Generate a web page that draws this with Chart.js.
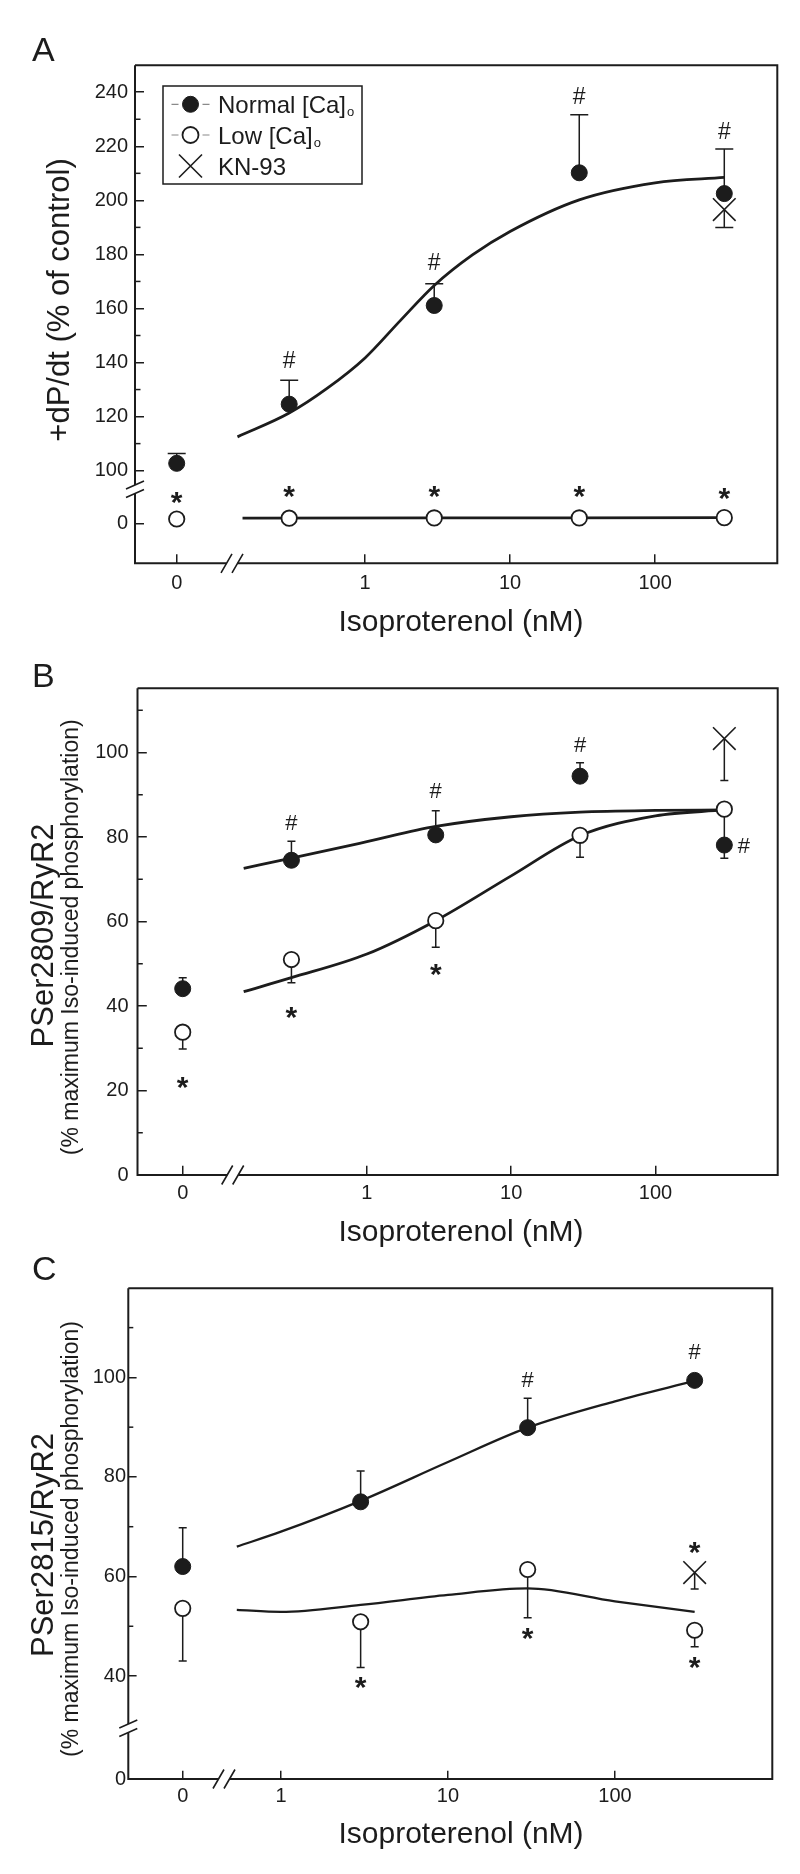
<!DOCTYPE html>
<html>
<head>
<title>Isoproterenol dose-response, panels A-C</title>
<style>
  body { margin: 0; background: #fff; }
  #figure { position: relative; width: 800px; height: 1874px; overflow: hidden; }
  #figure canvas { position: absolute; left: 0; }
</style>
<script src="https://cdn.jsdelivr.net/npm/chart.js"></script>
</head>
<body>
<div id="figure">
  <canvas id="panelA" width="800" height="650" style="top:0px"></canvas>
  <canvas id="panelB" width="800" height="605" style="top:650px"></canvas>
  <canvas id="panelC" width="800" height="619" style="top:1255px"></canvas>
</div>
<script>
const FONT = '"Liberation Sans", Arial, Helvetica, sans-serif';
const INK = '#1c1c1c';

// ---------- panel A: +dP/dt ----------
const isoA = [0.3, 3, 30, 300];
const normalA = [124.6, 161.1, 210.2, 202.5];
const normalErrA = [133.4, 169.1, 231.7, 219.0];
const normalCtrlA = [102.7];
const normalCtrlErrA = [106.3];
const lowA = [1.9, 2.0, 2.0, 2.1];
const lowCtrlA = [1.6];
const knA = [196.6];
const knErrA = [190.0];
const fitNormalXA = [0.132, 0.3, 0.55, 1, 1.75, 3, 5.5, 10, 30, 100, 300];
const fitNormalYA = [112.5, 121.3, 130.5, 141.7, 155.5, 168.5, 179.8, 188.5, 200.2, 206.5, 208.5];
const fitLowXA = [0.143, 3, 300];
const fitLowYA = [1.9, 2.0, 2.1];
const hashA = [[0.3, 141.3], [3, 177.5], [30, 238.9], [300, 225.8]];
const starA = [[0.3, 11.6], [3, 11.6], [30, 11.6], [300, 11.0]];
const starCtrlA = [9.3];
const yTicksA = [100, 120, 140, 160, 180, 200, 220, 240];
const yMinorA = [110, 130, 150, 170, 190, 210, 230];
const yTicksLowA = [0];

// ---------- panel B: PSer2809 ----------
const isoB = [0.3, 3, 30, 300];
const normalB = [74.5, 80.5, 94.4, 78.1];
const normalErrB = [79.0, 86.2, 97.6, 75.0];
const normalCtrlB = [44.1];
const normalCtrlErrB = [46.7];
const lowB = [51.0, 60.2, 80.4, 86.6];
const lowErrB = [45.5, 53.9, 75.2, 78.5];
const lowCtrlB = [33.8];
const lowCtrlErrB = [29.8];
const knB = [103.3];
const knErrB = [93.4];
const fitNormalXB = [0.14, 0.3, 1, 3, 10, 30, 100, 300];
const fitNormalYB = [72.6, 75.0, 78.9, 82.5, 84.8, 85.9, 86.3, 86.4];
const fitLowXB = [0.14, 0.3, 1, 3, 10, 30, 100, 300];
const fitLowYB = [43.4, 46.7, 52.3, 60.2, 70.8, 80.3, 85.0, 86.4];
const hashB = [[0.3, 83.5], [3, 90.9], [30, 101.8], [410, 77.9]];
const starB = [[0.3, 38.3], [3, 48.6]];
const starCtrlB = [21.7];
const yTicksB = [0, 20, 40, 60, 80, 100];
const yMinorB = [10, 30, 50, 70, 90, 110];

// ---------- panel C: PSer2815 ----------
const isoC = [3, 30, 300];
const normalC = [75.0, 89.9, 99.4];
const normalErrC = [81.2, 95.8, null];
const normalCtrlC = [62.0];
const normalCtrlErrC = [69.8];
const lowC = [50.9, 61.4, 49.2];
const lowErrC = [41.7, 51.7, 45.9];
const lowCtrlC = [53.6];
const lowCtrlErrC = [43.0];
const knC = [60.8];
const knErrC = [57.5];
const fitNormalXC = [0.544, 1, 3, 10, 30, 100, 300];
const fitNormalYC = [66.0, 69.0, 75.2, 83.0, 89.9, 95.2, 99.3];
const fitLowXC = [0.544, 1, 3, 10, 30, 100, 300];
const fitLowYC = [53.3, 52.9, 54.3, 56.3, 57.6, 55.0, 52.9];
const hashC = [[30, 99.6], [300, 105.3]];
const starC = [[3, 38.7], [30, 48.4], [300, 65.7], [300, 42.7]];
const yTicksC = [40, 60, 80, 100];
const yMinorC = [50, 70, 90, 110];
const yTicksLowC = [0];

const xTicksIso = [1, 10, 100];
const xTitle = 'Isoproterenol (nM)';

// ---------- helpers ----------
function pts(xs, ys) { return xs.map((x, i) => ({x: x, y: ys[i]})); }

function textAt(ctx, str, x, yc, font) {
  ctx.font = font;
  const m = ctx.measureText(str);
  ctx.textAlign = 'center';
  ctx.textBaseline = 'alphabetic';
  ctx.fillText(str, x, yc + (m.actualBoundingBoxAscent - m.actualBoundingBoxDescent) / 2);
}

function marker(ctx, kind, x, y) {
  ctx.save();
  ctx.strokeStyle = INK;
  if (kind === 'cross') {
    const d = 11.5;
    ctx.lineWidth = 1.6;
    ctx.beginPath();
    ctx.moveTo(x - d, y - d); ctx.lineTo(x + d, y + d);
    ctx.moveTo(x + d, y - d); ctx.lineTo(x - d, y + d);
    ctx.stroke();
  } else {
    ctx.beginPath();
    ctx.arc(x, y, 8, 0, Math.PI * 2);
    ctx.fillStyle = kind === 'filled' ? INK : '#fff';
    ctx.lineWidth = kind === 'filled' ? 1 : 1.8;
    ctx.fill(); ctx.stroke();
  }
  ctx.restore();
}

function drawLegend(ctx, G, items) {
  ctx.save();
  ctx.strokeStyle = INK; ctx.lineWidth = 1.5;
  ctx.strokeRect(G.x, G.y, G.w, G.h);
  items.forEach((it, i) => {
    const y = G.rows[i];
    if (it.kind !== 'cross') {
      ctx.strokeStyle = '#8a8a8a'; ctx.lineWidth = 1.2;
      ctx.beginPath();
      ctx.moveTo(G.markX - 19, y); ctx.lineTo(G.markX - 12, y);
      ctx.moveTo(G.markX + 12, y); ctx.lineTo(G.markX + 19, y);
      ctx.stroke();
    }
    marker(ctx, it.kind, G.markX, y);
    ctx.fillStyle = INK;
    ctx.font = G.size + 'px ' + FONT;
    ctx.textAlign = 'left'; ctx.textBaseline = 'alphabetic';
    const base = y + G.size * 0.36;
    ctx.fillText(it.label, G.textX, base);
    if (it.sub) {
      const w = ctx.measureText(it.label).width;
      ctx.font = '13px ' + FONT;
      ctx.fillText(it.sub, G.textX + w + 1, base + 3);
    }
  });
  ctx.restore();
}

function decor(P) {
  const L = P.layout;
  return {
    id: 'decor' + P.letter,
    beforeDatasetsDraw(chart) {
      const ctx = chart.ctx;
      ctx.save();
      ctx.strokeStyle = INK; ctx.lineWidth = 1.5;
      P.errors.forEach(e => {
        const sx = chart.scales[e.xAxis], sy = chart.scales[e.yAxis];
        e.x.forEach((xv, i) => {
          if (e.end[i] == null) return;
          const px = sx.getPixelForValue(xv);
          const p0 = sy.getPixelForValue(e.y[i]);
          const p1 = sy.getPixelForValue(e.end[i]);
          ctx.beginPath();
          ctx.moveTo(px, p0); ctx.lineTo(px, p1);
          ctx.moveTo(px - L.cap, p1); ctx.lineTo(px + L.cap, p1);
          ctx.stroke();
        });
      });
      ctx.restore();
    },
    afterDraw(chart) {
      const ctx = chart.ctx, a = chart.chartArea;
      ctx.save();
      ctx.strokeStyle = INK; ctx.fillStyle = INK;

      // minor ticks on the y axis
      ctx.lineWidth = 1.5;
      P.minor.forEach(m => {
        const s = chart.scales[m.axis];
        m.values.forEach(v => {
          const py = s.getPixelForValue(v);
          ctx.beginPath(); ctx.moveTo(a.left, py); ctx.lineTo(a.left + L.minor, py); ctx.stroke();
        });
      });

      // frame with axis breaks
      const xb = chart.scales.x0.right;
      const yb = chart.scales.yLow ? chart.scales.y.bottom : null;
      ctx.lineWidth = 2;
      ctx.beginPath();
      ctx.moveTo(a.left, a.top); ctx.lineTo(a.right, a.top);
      ctx.lineTo(a.right, a.bottom); ctx.lineTo(xb + 5.5, a.bottom);
      ctx.moveTo(xb - 5.5, a.bottom); ctx.lineTo(a.left, a.bottom);
      if (yb === null) {
        ctx.lineTo(a.left, a.top);
      } else {
        ctx.lineTo(a.left, yb + 4.2);
        ctx.moveTo(a.left, yb - 4.2); ctx.lineTo(a.left, a.top);
      }
      ctx.stroke();
      ctx.lineWidth = 1.6;
      ctx.beginPath();
      [-5.5, 5.5].forEach(d => {
        ctx.moveTo(xb + d - 5.5, a.bottom + 9.5); ctx.lineTo(xb + d + 5.5, a.bottom - 9.5);
      });
      if (yb !== null) {
        [-4.2, 4.2].forEach(d => {
          ctx.moveTo(a.left - 9, yb + d + 4); ctx.lineTo(a.left + 9, yb + d - 4);
        });
      }
      ctx.stroke();

      // significance marks
      P.marks.forEach(m => {
        const sx = chart.scales[m.xAxis], sy = chart.scales[m.yAxis];
        m.pts.forEach(p => textAt(ctx, m.text, sx.getPixelForValue(p[0]), sy.getPixelForValue(p[1]), m.font));
      });

      // axis titles
      ctx.font = '30px ' + FONT;
      ctx.textAlign = 'center'; ctx.textBaseline = 'alphabetic';
      ctx.fillText(xTitle, L.xTitleX, L.xTitleBase);
      L.yTitles.forEach((t, i) => {
        ctx.save();
        ctx.translate(t.x, t.y);
        ctx.rotate(-Math.PI / 2);
        ctx.font = t.size + 'px ' + FONT;
        ctx.textAlign = 'center';
        ctx.fillText(P.yTitles[i], 0, 0);
        ctx.restore();
      });

      // panel letter
      ctx.font = '34px ' + FONT;
      ctx.textAlign = 'left';
      ctx.fillText(P.letter, 32, L.letterY);

      if (P.legend) drawLegend(ctx, L.legend, P.legend);
      ctx.restore();
    }
  };
}

function makeChart(P) {
  const L = P.layout;
  const tickFont = {family: FONT, size: 20};
  const yAxis = (range, ticks, stackWeight, weight) => ({
    type: 'linear', position: 'left', min: range[0], max: range[1], bounds: 'data',
    stack: 'v', stackWeight: stackWeight, weight: weight,
    border: {display: false},
    grid: {drawOnChartArea: false, tickLength: -L.tick, color: INK, lineWidth: 1.5},
    ticks: {font: tickFont, color: INK, padding: L.yPad, autoSkip: false, callback: v => String(v)},
    afterBuildTicks: s => { s.ticks = ticks.map(v => ({value: v})); },
    afterFit: s => { s.width = L.left; }
  });
  const xAxis = (type, range, ticks, stackWeight, weight) => ({
    type: type, position: 'bottom', min: range[0], max: range[1], bounds: 'data',
    stack: 'h', stackWeight: stackWeight, weight: weight,
    border: {display: false},
    grid: {drawOnChartArea: false, tickLength: -L.tick, color: INK, lineWidth: 1.5},
    ticks: {font: tickFont, color: INK, padding: L.xPad, autoSkip: false, maxRotation: 0, callback: v => String(v)},
    afterBuildTicks: s => { s.ticks = ticks.map(v => ({value: v})); },
    afterFit: s => { s.height = L.height - L.bottom; }
  });

  const scales = {
    x0: xAxis('linear', P.xCtrl, [0], L.xBreak - L.left, 1),
    x: xAxis('logarithmic', P.xIso, xTicksIso, L.right - L.xBreak, 2),
    y: yAxis(P.yMain, P.yTicks, P.yLow ? L.yBreak - L.top : 1, 2)
  };
  if (P.yLow) scales.yLow = yAxis(P.yLow, P.yLowTicks, L.bottom - L.yBreak, 1);

  const filled = {pointStyle: 'circle', pointRadius: 8, pointBackgroundColor: INK, pointBorderColor: INK, pointBorderWidth: 1};
  const open = {pointStyle: 'circle', pointRadius: 7.7, pointBackgroundColor: '#fff', pointBorderColor: INK, pointBorderWidth: 1.8};
  const cross = {pointStyle: 'crossRot', pointRadius: 16, pointBorderColor: INK, pointBorderWidth: 1.6};
  const curve = {showLine: true, pointRadius: 0, borderColor: INK, borderWidth: L.curveW, cubicInterpolationMode: 'monotone', order: 5, clip: false};

  const datasets = [];
  P.curves.forEach(c => datasets.push(Object.assign({data: c.data, xAxisID: 'x', yAxisID: c.yAxis}, curve)));
  P.points.forEach(p => {
    const style = p.kind === 'filled' ? filled : p.kind === 'open' ? open : cross;
    datasets.push(Object.assign({data: p.data, xAxisID: p.xAxis, yAxisID: p.yAxis, showLine: false, order: 1, clip: false}, style));
  });

  return new Chart(document.getElementById(P.id), {
    type: 'scatter',
    data: {datasets: datasets},
    options: {
      responsive: false,
      animation: false,
      devicePixelRatio: 1,
      events: [],
      layout: {padding: {left: 0, top: L.top, right: 800 - L.right, bottom: 0}},
      plugins: {legend: {display: false}, tooltip: {enabled: false}},
      scales: scales
    },
    plugins: [decor(P)]
  });
}

const STAR = 'bold 30px ' + FONT;

// ---------- panels ----------
makeChart({
  id: 'panelA', letter: 'A',
  layout: {height: 650, left: 135, right: 777.3, top: 65.2, bottom: 563.3, xBreak: 232, yBreak: 489.3,
           yPad: 16, xPad: 16.7, tick: 9, minor: 5.5, cap: 9, curveW: 2.8, letterY: 61,
           xTitleX: 461, xTitleBase: 631,
           yTitles: [{x: 69, y: 300, size: 31}],
           legend: {x: 163, y: 86, w: 199, h: 98, rows: [104.3, 135, 166], markX: 190.5, textX: 218, size: 24}},
  xCtrl: [-1, 1.326], xIso: [0.121, 696],
  yMain: [93.1, 250], yLow: [-14.8, 12.6],
  yTicks: yTicksA, yLowTicks: yTicksLowA,
  minor: [{axis: 'y', values: yMinorA}],
  yTitles: ['+dP/dt (% of control)'],
  curves: [{data: pts(fitNormalXA, fitNormalYA), yAxis: 'y'}, {data: pts(fitLowXA, fitLowYA), yAxis: 'yLow'}],
  points: [
    {kind: 'filled', data: pts(isoA, normalA), xAxis: 'x', yAxis: 'y'},
    {kind: 'filled', data: pts([0], normalCtrlA), xAxis: 'x0', yAxis: 'y'},
    {kind: 'open', data: pts(isoA, lowA), xAxis: 'x', yAxis: 'yLow'},
    {kind: 'open', data: pts([0], lowCtrlA), xAxis: 'x0', yAxis: 'yLow'},
    {kind: 'cross', data: pts([300], knA), xAxis: 'x', yAxis: 'y'}
  ],
  errors: [
    {xAxis: 'x', yAxis: 'y', x: isoA, y: normalA, end: normalErrA},
    {xAxis: 'x0', yAxis: 'y', x: [0], y: normalCtrlA, end: normalCtrlErrA},
    {xAxis: 'x', yAxis: 'y', x: [300], y: knA, end: knErrA}
  ],
  marks: [
    {text: '#', font: '23px ' + FONT, xAxis: 'x', yAxis: 'y', pts: hashA},
    {text: '*', font: STAR, xAxis: 'x', yAxis: 'yLow', pts: starA},
    {text: '*', font: STAR, xAxis: 'x0', yAxis: 'yLow', pts: starCtrlA.map(v => [0, v])}
  ],
  legend: [
    {kind: 'filled', label: 'Normal [Ca]', sub: 'o'},
    {kind: 'open', label: 'Low [Ca]', sub: 'o'},
    {kind: 'cross', label: 'KN-93'}
  ]
});

makeChart({
  id: 'panelB', letter: 'B',
  layout: {height: 605, left: 137.5, right: 777.7, top: 38.3, bottom: 525, xBreak: 232.7, yBreak: null,
           yPad: 18.2, xPad: 16.2, tick: 9.3, minor: 5.3, cap: 4, curveW: 2.8, letterY: 37,
           xTitleX: 461, xTitleBase: 591,
           yTitles: [{x: 52.7, y: 285.4, size: 31}, {x: 78, y: 287.3, size: 23}]},
  xCtrl: [-1, 1.106], xIso: [0.1175, 703],
  yMain: [0, 115.2], yLow: null,
  yTicks: yTicksB,
  minor: [{axis: 'y', values: yMinorB}],
  yTitles: ['PSer2809/RyR2', '(% maximum Iso-induced phosphorylation)'],
  curves: [{data: pts(fitNormalXB, fitNormalYB), yAxis: 'y'}, {data: pts(fitLowXB, fitLowYB), yAxis: 'y'}],
  points: [
    {kind: 'filled', data: pts(isoB, normalB), xAxis: 'x', yAxis: 'y'},
    {kind: 'filled', data: pts([0], normalCtrlB), xAxis: 'x0', yAxis: 'y'},
    {kind: 'open', data: pts(isoB, lowB), xAxis: 'x', yAxis: 'y'},
    {kind: 'open', data: pts([0], lowCtrlB), xAxis: 'x0', yAxis: 'y'},
    {kind: 'cross', data: pts([300], knB), xAxis: 'x', yAxis: 'y'}
  ],
  errors: [
    {xAxis: 'x', yAxis: 'y', x: isoB, y: lowB, end: lowErrB},
    {xAxis: 'x', yAxis: 'y', x: isoB, y: normalB, end: normalErrB},
    {xAxis: 'x0', yAxis: 'y', x: [0], y: normalCtrlB, end: normalCtrlErrB},
    {xAxis: 'x0', yAxis: 'y', x: [0], y: lowCtrlB, end: lowCtrlErrB},
    {xAxis: 'x', yAxis: 'y', x: [300], y: knB, end: knErrB}
  ],
  marks: [
    {text: '#', font: '22px ' + FONT, xAxis: 'x', yAxis: 'y', pts: hashB},
    {text: '*', font: STAR, xAxis: 'x', yAxis: 'y', pts: starB},
    {text: '*', font: STAR, xAxis: 'x0', yAxis: 'y', pts: starCtrlB.map(v => [0, v])}
  ]
});

makeChart({
  id: 'panelC', letter: 'C',
  layout: {height: 619, left: 128.3, right: 772.3, top: 33.3, bottom: 524, xBreak: 224, yBreak: 473.3,
           yPad: 10.6, xPad: 13.8, tick: 8.3, minor: 5, cap: 4, curveW: 2.3, letterY: 25,
           xTitleX: 461, xTitleBase: 588,
           yTitles: [{x: 52.7, y: 290, size: 31}, {x: 78, y: 284, size: 23}]},
  xCtrl: [-1, 0.759], xIso: [0.456, 875],
  yMain: [29.5, 117.9], yLow: [0, 10.2],
  yTicks: yTicksC, yLowTicks: yTicksLowC,
  minor: [{axis: 'y', values: yMinorC}],
  yTitles: ['PSer2815/RyR2', '(% maximum Iso-induced phosphorylation)'],
  curves: [{data: pts(fitNormalXC, fitNormalYC), yAxis: 'y'}, {data: pts(fitLowXC, fitLowYC), yAxis: 'y'}],
  points: [
    {kind: 'filled', data: pts(isoC, normalC), xAxis: 'x', yAxis: 'y'},
    {kind: 'filled', data: pts([0], normalCtrlC), xAxis: 'x0', yAxis: 'y'},
    {kind: 'open', data: pts(isoC, lowC), xAxis: 'x', yAxis: 'y'},
    {kind: 'open', data: pts([0], lowCtrlC), xAxis: 'x0', yAxis: 'y'},
    {kind: 'cross', data: pts([300], knC), xAxis: 'x', yAxis: 'y'}
  ],
  errors: [
    {xAxis: 'x', yAxis: 'y', x: isoC, y: normalC, end: normalErrC},
    {xAxis: 'x', yAxis: 'y', x: isoC, y: lowC, end: lowErrC},
    {xAxis: 'x0', yAxis: 'y', x: [0], y: normalCtrlC, end: normalCtrlErrC},
    {xAxis: 'x0', yAxis: 'y', x: [0], y: lowCtrlC, end: lowCtrlErrC},
    {xAxis: 'x', yAxis: 'y', x: [300], y: knC, end: knErrC}
  ],
  marks: [
    {text: '#', font: '22px ' + FONT, xAxis: 'x', yAxis: 'y', pts: hashC},
    {text: '*', font: STAR, xAxis: 'x', yAxis: 'y', pts: starC}
  ]
});
</script>
</body>
</html>
